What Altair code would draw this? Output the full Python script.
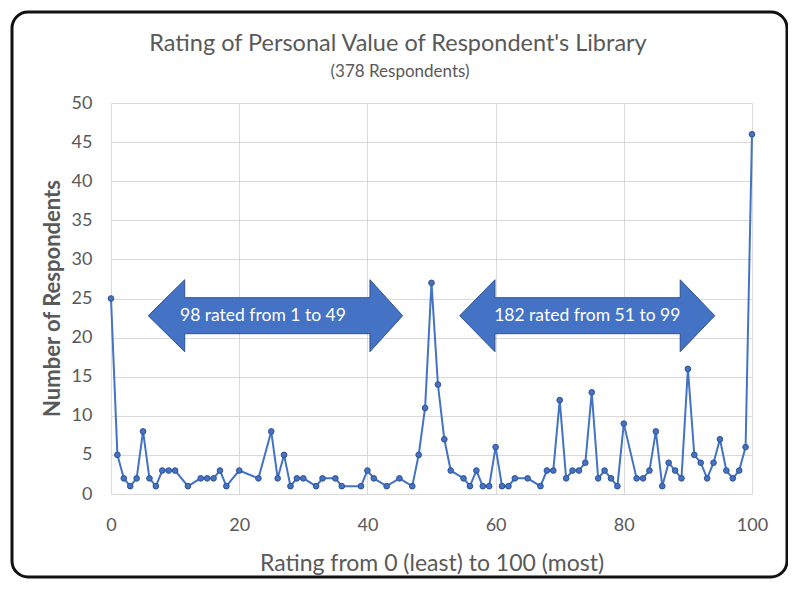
import altair as alt
import pandas as pd

# ---- data ----
ratings = [0, 1, 2, 3, 4, 5, 6, 7, 8, 9, 10, 12, 14, 15, 16, 17, 18, 20, 23, 25,
           26, 27, 28, 29, 30, 32, 33, 35, 36, 39, 40, 41, 43, 45, 47, 48, 49, 50,
           51, 52, 53, 55, 56, 57, 58, 59, 60, 61, 62, 63, 65, 67, 68, 69, 70, 71,
           72, 73, 74, 75, 76, 77, 78, 79, 80, 82, 83, 84, 85, 86, 87, 88, 89, 90,
           91, 92, 93, 94, 95, 96, 97, 98, 99, 100]
counts = [25, 5, 2, 1, 2, 8, 2, 1, 3, 3, 3, 1, 2, 2, 2, 3, 1, 3, 2, 8,
          2, 5, 1, 2, 2, 1, 2, 2, 1, 1, 3, 2, 1, 2, 1, 5, 11, 27,
          14, 7, 3, 2, 1, 3, 1, 1, 6, 1, 1, 2, 2, 1, 3, 3, 12, 2,
          3, 3, 4, 13, 2, 3, 2, 1, 9, 2, 2, 3, 8, 1, 4, 3, 2, 16,
          5, 4, 2, 4, 7, 3, 2, 3, 6, 46]

title_text = "Rating of Personal Value of Respondent's Library"
subtitle_text = "(378 Respondents)"
x_title = "Rating from 0 (least) to 100 (most)"
y_title = "Number of Respondents"
x_ticks = [0, 20, 40, 60, 80, 100]
y_ticks = [0, 5, 10, 15, 20, 25, 30, 35, 40, 45, 50]

arrow_labels = ["98 rated from 1 to 49", "182 rated from 51 to 99"]
arrow_label_x = [23.7, 74.3]
arrow_tip_left = [5.8, 54.4]
arrow_head_left = [11.5, 59.9]
arrow_head_right = [40.4, 88.8]
arrow_tip_right = [45.5, 94.2]
arrow_mid = 22.8
arrow_body_half = 2.3
arrow_head_half = 4.6

FONT = "Lato"
GRAY = "#595959"
BLUE = "#4472C4"

df = pd.DataFrame({"rating": ratings, "count": counts})

# arrow outlines (polygon vertices, in data units)
rows = []
m, b, h = arrow_mid, arrow_body_half, arrow_head_half
for i in range(len(arrow_labels)):
    tl, hl, hr, tr = arrow_tip_left[i], arrow_head_left[i], arrow_head_right[i], arrow_tip_right[i]
    pts = [(tl, m), (hl, m + h), (hl, m + b), (hr, m + b), (hr, m + h), (tr, m),
           (hr, m - h), (hr, m - b), (hl, m - b), (hl, m - h), (tl, m)]
    for k, (xv, yv) in enumerate(pts):
        rows.append({"arrow": i, "idx": k, "ax": xv, "ay": yv})
arrow_df = pd.DataFrame(rows)
label_df = pd.DataFrame({"lx": arrow_label_x, "ly": [arrow_mid] * 2, "label": arrow_labels})

xscale = alt.Scale(domain=[0, 100], nice=False, zero=False)
yscale = alt.Scale(domain=[0, 50], nice=False)

x_axis = alt.Axis(values=x_ticks, grid=True, gridColor="#d9d9d9",
                  domain=False, ticks=False, labelPadding=22, labelFontSize=18,
                  labelFlush=False, labelOverlap=False,
                  labelColor=GRAY, labelFont=FONT, title=x_title,
                  titleFont=FONT, titleFontSize=23, titleFontWeight="normal",
                  titleColor=GRAY, titleY=69, titleBaseline="middle")
y_axis = alt.Axis(values=y_ticks, grid=True, gridColor="#d9d9d9",
                  domain=False, ticks=False, labelPadding=19, labelFontSize=18,
                  labelFlush=False, labelOverlap=False,
                  labelColor=GRAY, labelFont=FONT, title=y_title,
                  titleFont=FONT, titleFontSize=22, titleFontWeight="bold",
                  titleColor=GRAY, titleX=-59, titleY=195,
                  titleAlign="center", titleBaseline="middle")

border = alt.Chart(pd.DataFrame({"a": [0]})).mark_rect(
    cornerRadius=16, fill="white", fillOpacity=0, stroke="#111111", strokeWidth=3
).encode(x=alt.value(-99), x2=alt.value(676), y=alt.value(-91), y2=alt.value(474))

titles = alt.Chart(pd.DataFrame({"t": [title_text]})).mark_text(
    font=FONT, fontSize=23.5, color=GRAY, baseline="middle", align="center"
).encode(x=alt.value(287), y=alt.value(-59), text="t:N")
subtitles = alt.Chart(pd.DataFrame({"t": [subtitle_text]})).mark_text(
    font=FONT, fontSize=17, color=GRAY, baseline="middle", align="center"
).encode(x=alt.value(289), y=alt.value(-31), text="t:N")

line = alt.Chart(df).mark_line(color=BLUE, strokeWidth=2).encode(
    x=alt.X("rating:Q", scale=xscale, axis=x_axis),
    y=alt.Y("count:Q", scale=yscale, axis=y_axis),
)
points = alt.Chart(df).mark_point(filled=True, size=32, color=BLUE, stroke="#2F528F",
                                  strokeWidth=1, opacity=1).encode(
    x=alt.X("rating:Q", scale=xscale, axis=x_axis),
    y=alt.Y("count:Q", scale=yscale, axis=y_axis))

arrows = alt.Chart(arrow_df).mark_line(fill=BLUE, stroke="#2F528F", strokeWidth=1,
                                       fillOpacity=1).encode(
    x=alt.X("ax:Q", scale=xscale, axis=x_axis),
    y=alt.Y("ay:Q", scale=yscale, axis=y_axis),
    detail="arrow:N", order="idx:Q")

arrow_text = alt.Chart(label_df).mark_text(color="white", font=FONT, fontSize=17.5).encode(
    x=alt.X("lx:Q", scale=xscale, axis=x_axis),
    y=alt.Y("ly:Q", scale=yscale, axis=y_axis), text="label:N")

chart = alt.layer(border, titles, subtitles, line, points, arrows, arrow_text).properties(
    width=641, height=391,
    autosize="none",
    background="white",
    padding={"left": 103, "top": 95, "right": 36, "bottom": 89},
).configure_view(stroke=None)

chart.save("out.html", embed_options={"renderer": "svg", "actions": False})
